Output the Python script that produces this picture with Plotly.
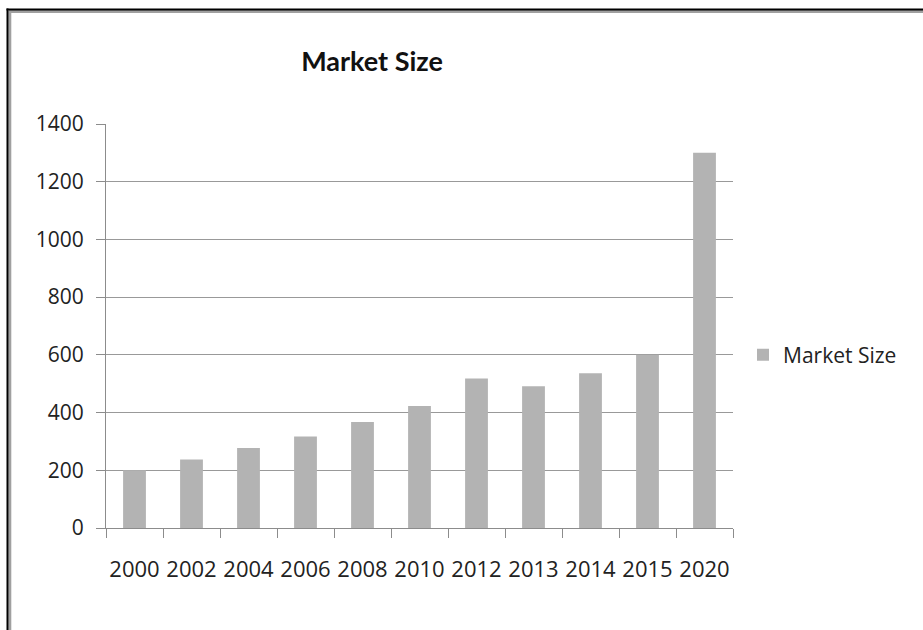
import plotly.graph_objects as go

years = ["2000", "2002", "2004", "2006", "2008", "2010", "2012", "2013", "2014", "2015", "2020"]
market_size = [200, 237, 277, 317, 367, 423, 518, 491, 536, 600, 1300]
y_ticks = [0, 200, 400, 600, 800, 1000, 1200, 1400]

L, R, T, B = 106, 733, 124, 528
W, H = 923, 630

def px(x):
    return (x - L) / (R - L)

def py(y):
    return (B - y) / (B - T)

fig = go.Figure()
fig.add_trace(go.Bar(
    x=years, y=market_size, name="Market Size",
    marker=dict(color="#b3b3b3", line=dict(width=0)),
))

font = "'Open Sans', sans-serif"
tfont = "Lato, sans-serif"
fig.update_layout(
    width=W, height=H,
    margin=dict(l=L, r=W - R, t=T, b=H - B),
    paper_bgcolor="white", plot_bgcolor="white",
    bargap=0.6,
    font=dict(family=font, color="#222", size=22),
    title=dict(text="<b>Market Size</b>", x=372 / W, xanchor="center",
               y=1 - 62 / H, yanchor="middle", font=dict(size=27, family=tfont, color="#111")),
    showlegend=True,
    legend=dict(x=px(743), xanchor="left", y=py(355), yanchor="middle",
                font=dict(size=21, family=font, color="#222"), bgcolor="rgba(0,0,0,0)"),
    xaxis=dict(type="category", showline=True, linecolor="#8c8c8c", linewidth=1,
               ticks="outside", tickson="boundaries", ticklen=9, tickcolor="#8c8c8c",
               showgrid=False, tickangle=0,
               tickfont=dict(size=22, family=font, color="#222"),
               ticklabelstandoff=22),
    yaxis=dict(range=[0, 1400], tickvals=y_ticks, showline=True, linecolor="#8c8c8c",
               linewidth=1, ticks="outside", ticklen=9, tickcolor="#8c8c8c",
               showgrid=True, gridcolor="#999999", gridwidth=1, zeroline=False,
               tickfont=dict(size=21, family=font, color="#222"), ticklabelstandoff=8),
    shapes=[
        dict(type="line", xref="paper", yref="paper", x0=px(9.8), x1=px(9.8), y0=py(11), y1=py(640),
             line=dict(color="#a0a0a0", width=3)),
        dict(type="line", xref="paper", yref="paper", x0=px(9), x1=px(930), y0=py(11.5), y1=py(11.5),
             line=dict(color="#a0a0a0", width=3)),
        dict(type="line", xref="paper", yref="paper", x0=px(7.5), x1=px(7.5), y0=py(8.5), y1=py(640),
             line=dict(color="black", width=2)),
        dict(type="line", xref="paper", yref="paper", x0=px(6.5), x1=px(930), y0=py(9.5), y1=py(9.5),
             line=dict(color="black", width=2)),
    ],
)

fig.write_html("out.html")
